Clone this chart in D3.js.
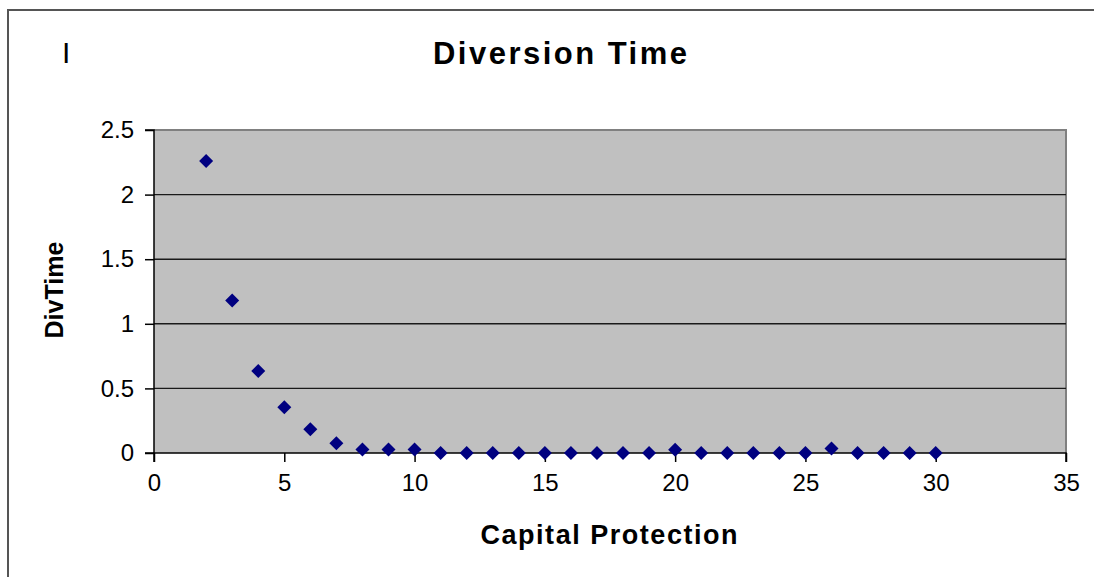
<!DOCTYPE html>
<html>
<head>
<meta charset="utf-8">
<script src="https://cdn.jsdelivr.net/npm/d3@7"></script>
<style>
  html, body { margin: 0; padding: 0; background: #ffffff; }
  svg { display: block; }
  text { font-family: "Liberation Sans", Arial, sans-serif; fill: #000; }
</style>
</head>
<body>
<svg id="chart" width="1094" height="577"></svg>
<script>
// ---- data ----
const capitalProtection = [2,3,4,5,6,7,8,9,10,11,12,13,14,15,16,17,18,19,20,21,22,23,24,25,26,27,28,29,30];
const divTime = [2.26,1.18,0.635,0.355,0.183,0.075,0.028,0.028,0.028,0,0,0,0,0,0,0,0,0,0.025,0,0,0,0,0,0.035,0,0,0,0];
const xTicks = [0,5,10,15,20,25,30,35];
const yTicks = [0,0.5,1,1.5,2,2.5];
const chartTitle = "Diversion Time";
const xTitle = "Capital Protection";
const yTitle = "DivTime";

// ---- layout ----
const svg = d3.select("#chart");
const plot = { left: 154, top: 130, right: 1066, bottom: 453 };

const x = d3.scaleLinear().domain([0, 35]).range([plot.left, plot.right]);
const y = d3.scaleLinear().domain([0, 2.5]).range([plot.bottom, plot.top]);

// outer chart border (only top and left visible in the cropped picture)
svg.append("path")
  .attr("d", "M8,577 L8,10 L1094,10")
  .attr("fill", "none")
  .attr("stroke", "#555")
  .attr("stroke-width", 2);

// plot area background
svg.append("rect")
  .attr("x", plot.left).attr("y", plot.top)
  .attr("width", plot.right - plot.left).attr("height", plot.bottom - plot.top)
  .attr("fill", "#c0c0c0");

// plot area top/right border (gray)
svg.append("path")
  .attr("d", `M${plot.left},${plot.top} L${plot.right},${plot.top} L${plot.right},${plot.bottom}`)
  .attr("fill", "none")
  .attr("stroke", "#808080")
  .attr("stroke-width", 2);

// gridlines
svg.append("g")
  .selectAll("line")
  .data(yTicks.filter(d => d > 0 && d < 2.5))
  .join("line")
  .attr("x1", plot.left).attr("x2", plot.right)
  .attr("y1", d => y(d)).attr("y2", d => y(d))
  .attr("stroke", "#1a1a1a")
  .attr("stroke-width", 1.4);

// y axis
const yAxis = svg.append("g")
  .attr("transform", `translate(${plot.left},0)`)
  .call(d3.axisLeft(y).tickValues(yTicks).tickSize(9).tickPadding(11).tickFormat(d3.format("")));
yAxis.select(".domain").attr("stroke", "#000").attr("stroke-width", 1.5).attr("d", `M-9,${plot.top}H0V${plot.bottom}H-9`);
yAxis.selectAll(".tick line").attr("stroke", "#000").attr("stroke-width", 1.5);
yAxis.selectAll(".tick text")
  .style("font-family", '"Liberation Sans", Arial, sans-serif')
  .style("font-size", "24px").attr("fill", "#000");

// x axis
const xAxis = svg.append("g")
  .attr("transform", `translate(0,${plot.bottom})`)
  .call(d3.axisBottom(x).tickValues(xTicks).tickSize(9).tickPadding(12).tickFormat(d3.format("d")));
xAxis.select(".domain").attr("stroke", "#000").attr("stroke-width", 1.5).attr("d", `M${plot.left},9V0H${plot.right}V9`);
xAxis.selectAll(".tick line").attr("stroke", "#000").attr("stroke-width", 1.5);
xAxis.selectAll(".tick text")
  .style("font-family", '"Liberation Sans", Arial, sans-serif')
  .style("font-size", "24px").attr("fill", "#000");

// data markers (diamonds)
const diamond = "M0,-7L7,0L0,7L-7,0Z";
svg.append("g")
  .selectAll("path")
  .data(capitalProtection.map((c, i) => ({ c, v: divTime[i] })))
  .join("path")
  .attr("d", diamond)
  .attr("transform", d => `translate(${x(d.c)},${y(d.v)})`)
  .attr("fill", "#000080");

// chart title
svg.append("text")
  .attr("x", 560).attr("y", 64)
  .attr("text-anchor", "middle")
  .attr("font-weight", "bold")
  .attr("font-size", 31)
  .attr("textLength", 254).attr("lengthAdjust", "spacing")
  .text(chartTitle);

// stray cursor glyph at top-left
svg.append("text")
  .attr("x", 62).attr("y", 63)
  .attr("font-size", 30)
  .text("I");

// x axis title
svg.append("text")
  .attr("x", 609).attr("y", 544)
  .attr("text-anchor", "middle")
  .attr("font-weight", "bold")
  .attr("font-size", 27)
  .attr("textLength", 257).attr("lengthAdjust", "spacing")
  .text(xTitle);

// y axis title
svg.append("text")
  .attr("transform", "translate(63,290) rotate(-90)")
  .attr("text-anchor", "middle")
  .attr("font-weight", "bold")
  .attr("font-size", 25)
  .attr("textLength", 97).attr("lengthAdjust", "spacing")
  .text(yTitle);
</script>
</body>
</html>
